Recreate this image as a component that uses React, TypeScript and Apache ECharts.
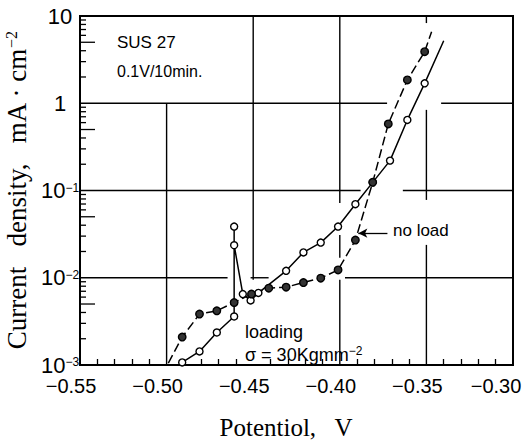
import React, { useEffect, useRef } from "react";
import * as echarts from "echarts";

// Axis tick labels
const xTickLabels = ["−0.55", "−0.50", "−0.45", "−0.40", "−0.35", "−0.30"];
const yTickLabels = ["10^−3", "10^−2", "10^−1", "1", "10"];

// Under load (σ = 30 Kg/mm²), open circles
const loadingPotential = [
  -0.491, -0.481, -0.471, -0.461, -0.461, -0.461, -0.456, -0.4515, -0.447,
  -0.431, -0.421, -0.411, -0.401, -0.391, -0.381, -0.371, -0.361, -0.351,
];
const loadingCurrent = [
  0.00107, 0.00143, 0.00236, 0.0036, 0.0386, 0.0236, 0.0065, 0.0055, 0.0067,
  0.012, 0.0195, 0.0253, 0.0386, 0.0697, 0.124, 0.22, 0.644, 1.69,
];
const loadingTail = [-0.34, 5.2];

// No load, filled circles
const noLoadPotential = [
  -0.491, -0.481, -0.471, -0.461, -0.451, -0.441, -0.431, -0.421, -0.411,
  -0.401, -0.391, -0.381, -0.372, -0.361, -0.351,
];
const noLoadCurrent = [
  0.00209, 0.00383, 0.00418, 0.0052, 0.0065, 0.0076, 0.0078, 0.0088, 0.0099,
  0.0123, 0.027, 0.124, 0.58, 1.85, 3.9,
];
const noLoadHead = [-0.499, 0.00105];
const noLoadTail = [-0.347, 6.6];

const SANS = "Liberation Sans, Arial, sans-serif";
const SERIF = "Liberation Serif, Times New Roman, serif";

// Grid rules, drawn in runs that stop short of curves and labels: [x1, y1, x2, y2]
const gridRuns = [
  [-0.55, 1, -0.3727, 1],
  [-0.3415, 1, -0.3, 1],
  [-0.55, 0.1, -0.388, 0.1],
  [-0.3636, 0.1, -0.3, 0.1],
  [-0.55, 0.01, -0.4648, 0.01],
  [-0.4515, 0.01, -0.4411, 0.01],
  [-0.397, 0.01, -0.3, 0.01],
  [-0.5, 0.001, -0.5, 1],
  [-0.45, 0.0095, -0.45, 10],
  [-0.4, 0.072, -0.4, 10],
  [-0.4, 0.0169, -0.4, 0.031],
  [-0.4, 0.001, -0.4, 0.0095],
  [-0.35, 8.3, -0.35, 10],
  [-0.35, 0.078, -0.35, 0.84],
  [-0.35, 0.001, -0.35, 0.0238],
];

const pairs = (xs: number[], ys: number[]) => xs.map((x, i) => [x, ys[i]]);

export default function App() {
  const ref = useRef<HTMLDivElement>(null);

  useEffect(() => {
    if (!ref.current) return;
    const chart = echarts.init(ref.current, undefined, { renderer: "svg" });

    // log-scale minor ticks (2..9 per decade) along the left edge
    const minorY: number[][] = [];
    for (let d = -3; d < 1; d++) {
      for (let m = 2; m <= 9; m++) minorY.push([-0.55, m * Math.pow(10, d)]);
    }

    const loadingPts = pairs(loadingPotential, loadingCurrent);
    const noLoadPts = pairs(noLoadPotential, noLoadCurrent);

    const option: any = {
      animation: false,
      backgroundColor: "#fff",
      grid: {
        left: 80,
        right: 13,
        top: 16,
        bottom: 82,
        show: true,
        borderColor: "#000",
        borderWidth: 2,
        containLabel: false,
        outerBoundsMode: "none",
      },
      xAxis: {
        type: "value",
        min: -0.55,
        max: -0.3,
        interval: 0.05,
        axisLine: { show: true, lineStyle: { color: "#000", width: 2 } },
        axisTick: { show: false, inside: true },
        minorTick: { show: true, splitNumber: 5, length: 6, lineStyle: { color: "#000", width: 1.3 } },
        splitLine: { show: false },
        axisLabel: {
          margin: 12,
          color: "#000",
          formatter: (v: number) => {
            const i = Math.round((v + 0.55) / 0.05);
            const s = xTickLabels[i];
            if (!s) return "";
            // the numeral sits over the tick, the sign hangs to its left
            return i === xTickLabels.length - 1 ? `{e|${s}}` : `{n|${s}}`;
          },
          rich: {
            n: { fontFamily: SANS, fontSize: 20, lineHeight: 18, color: "#000", padding: [0, 18, 0, 0] },
            e: { fontFamily: SANS, fontSize: 20, lineHeight: 18, color: "#000", padding: [0, 34, 0, 0] },
          },
        },
      },
      yAxis: {
        type: "log",
        logBase: 10,
        min: 0.001,
        max: 10,
        axisLine: { show: true, lineStyle: { color: "#000", width: 2 } },
        axisTick: { show: false },
        splitLine: { show: false },
        axisLabel: {
          margin: 20,
          align: "center",
          color: "#000",
          formatter: (v: number) => {
            const s = yTickLabels[Math.round(Math.log10(v)) + 3];
            if (!s) return "";
            const [b, e] = s.split("^");
            return e ? `{b|${b}}{s|${e}}` : `{b|${b}}`;
          },
          rich: {
            b: { fontFamily: SANS, fontSize: 22, lineHeight: 18, color: "#000" },
            s: { fontFamily: SANS, fontSize: 12, lineHeight: 18, color: "#000", verticalAlign: "top" },
          },
        },
        name: "{a|Current   density,   mA · cm}{s|−2}",
        nameLocation: "middle",
        nameGap: 48,
        nameRotate: 90,
        nameTextStyle: {
          color: "#000",
          rich: {
            a: { fontFamily: SERIF, fontSize: 27, color: "#000", lineHeight: 26 },
            s: { fontFamily: SERIF, fontSize: 16, color: "#000", verticalAlign: "top", lineHeight: 26 },
          },
        },
      },
      graphic: [
        { type: "text", left: 117, top: 34, style: { text: "SUS 27", fontFamily: SANS, fontSize: 17, fill: "#000" } },
        { type: "text", left: 117, top: 63, style: { text: "0.1V/10min.", fontFamily: SANS, fontSize: 16, fill: "#000" } },
        { type: "text", left: 245, top: 323, style: { text: "loading", fontFamily: SANS, fontSize: 18, fill: "#000" } },
        {
          type: "text",
          left: 245,
          top: 345,
          style: {
            text: "{m|σ = 30Kgmm}{s|−2}",
            rich: {
              m: { fontFamily: SANS, fontSize: 18, fill: "#000", lineHeight: 20 },
              s: { fontFamily: SANS, fontSize: 12, fill: "#000", verticalAlign: "top", lineHeight: 20 },
            },
          },
        },
        { type: "text", left: 393, top: 222, style: { text: "no load", fontFamily: SANS, fontSize: 17, fill: "#000" } },
        {
          type: "text",
          x: 286,
          y: 427,
          style: {
            text: "Potentiol,   V",
            fontFamily: SERIF,
            fontSize: 25,
            fill: "#000",
            align: "center",
            verticalAlign: "middle",
          },
        },
      ],
      series: [
        {
          type: "custom",
          name: "grid",
          coordinateSystem: "cartesian2d",
          silent: true,
          encode: { x: [0, 2], y: [1, 3] },
          data: gridRuns,
          z: 1,
          renderItem: (_p: any, api: any) => {
            const a = api.coord([api.value(0), api.value(1)]);
            const b = api.coord([api.value(2), api.value(3)]);
            return {
              type: "line",
              shape: { x1: a[0], y1: a[1], x2: b[0], y2: b[1] },
              style: { stroke: "#000", lineWidth: 1.4 },
            };
          },
        },
        {
          type: "custom",
          name: "minor",
          coordinateSystem: "cartesian2d",
          silent: true,
          encode: { x: 0, y: 1 },
          data: minorY,
          z: 1,
          renderItem: (_p: any, api: any) => {
            const v = api.value(1);
            const p = api.coord([api.value(0), v]);
            const mant = Math.round(v / Math.pow(10, Math.floor(Math.log10(v) + 1e-9)));
            const len = mant === 5 ? 15 : 6;
            return {
              type: "line",
              shape: { x1: p[0], y1: p[1], x2: p[0] + len, y2: p[1] },
              style: { stroke: "#000", lineWidth: 1.3 },
            };
          },
        },
        {
          type: "line",
          name: "loading",
          data: [...loadingPts, loadingTail],
          showSymbol: false,
          lineStyle: { color: "#000", width: 1.5 },
          z: 2,
        },
        {
          type: "line",
          name: "no load",
          data: [noLoadHead, ...noLoadPts, noLoadTail],
          showSymbol: false,
          lineStyle: { color: "#000", width: 1.5, type: [9, 4] },
          z: 2,
          markLine: {
            silent: true,
            symbol: ["none", "arrow"],
            symbolSize: [7, 9],
            label: { show: false },
            lineStyle: { color: "#000", width: 1.3, type: "solid" },
            data: [[{ coord: [-0.3725, 0.0324] }, { coord: [-0.3893, 0.0324] }]],
          },
        },
        {
          type: "scatter",
          name: "loading points",
          data: loadingPts,
          symbol: "circle",
          symbolSize: 7,
          itemStyle: { color: "#fff", borderColor: "#000", borderWidth: 1.4, opacity: 1 },
          z: 3,
        },
        {
          type: "scatter",
          name: "no load points",
          data: noLoadPts,
          symbol: "circle",
          symbolSize: 7.5,
          itemStyle: { color: "#333", borderColor: "#000", borderWidth: 1.4, opacity: 1 },
          z: 3,
        },
      ],
    };

    chart.setOption(option);
    return () => chart.dispose();
  }, []);

  return (
    <div
      ref={ref}
      style={{ position: "fixed", left: 0, top: 0, width: 526, height: 447, background: "#fff" }}
    />
  );
}
